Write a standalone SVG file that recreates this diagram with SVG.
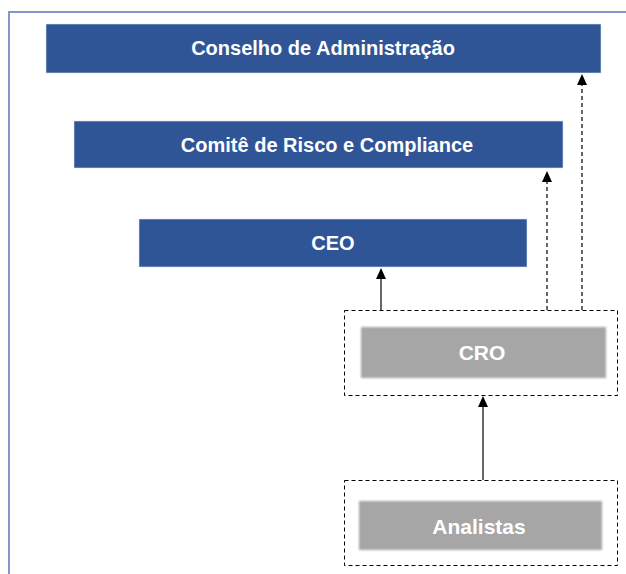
<svg xmlns="http://www.w3.org/2000/svg" width="626" height="574" viewBox="0 0 626 574">
  <style>
    .blue { fill: #2F5597; stroke: #dbe3f2; stroke-width: 0.6; }
    .gray { fill: #a6a6a6; }
    .group { fill: none; stroke: #000; stroke-width: 1; stroke-dasharray: 4 3; }
    .lbl { font-family: "Liberation Sans", Arial, sans-serif; font-weight: bold; font-size: 20px; fill: #fff; text-anchor: middle; }
    .glbl { font-size: 21px; }
    .solid { fill: none; stroke: #000; stroke-width: 1.2; }
    .dash { fill: none; stroke: #000; stroke-width: 1.2; stroke-dasharray: 4 3; }
    .head { fill: #000; }
  </style>
  <defs>
    <filter id="soft" x="-5%" y="-20%" width="110%" height="140%">
      <feGaussianBlur stdDeviation="1.3"/>
    </filter>
  </defs>
  <rect x="0" y="0" width="626" height="574" fill="#fff"/>
  <rect x="9" y="12" width="700" height="700" fill="none" stroke="#8497c8" stroke-width="2"/>

  <g id="conselho">
    <rect class="blue" x="46" y="24" width="555" height="49"/>
    <text class="lbl" x="323" y="55">Conselho de Administração</text>
  </g>
  <g id="comite">
    <rect class="blue" x="74" y="121" width="489" height="47"/>
    <text class="lbl" x="327" y="152">Comitê de Risco e Compliance</text>
  </g>
  <g id="ceo">
    <rect class="blue" x="139" y="219" width="388" height="48"/>
    <text class="lbl" x="333" y="250">CEO</text>
  </g>
  <g id="cro">
    <rect class="group" x="344.5" y="310.5" width="273" height="85"/>
    <rect class="gray" x="361" y="327" width="245" height="51" filter="url(#soft)"/>
    <text class="lbl glbl" x="482" y="360">CRO</text>
  </g>
  <g id="analistas">
    <rect class="group" x="344.5" y="480.5" width="273" height="85"/>
    <rect class="gray" x="359" y="501" width="243" height="49" filter="url(#soft)"/>
    <text class="lbl glbl" x="479" y="534">Analistas</text>
  </g>

  <g id="connectors">
    <line class="solid" x1="381" y1="310" x2="381" y2="279"/>
    <path class="head" d="M381 268 L386 279 L376 279 Z"/>
    <line class="dash" x1="547" y1="310" x2="547" y2="182"/>
    <path class="head" d="M547 171 L552 182 L542 182 Z"/>
    <line class="dash" x1="582" y1="310" x2="582" y2="85"/>
    <path class="head" d="M582 74 L587 85 L577 85 Z"/>
    <line class="solid" x1="483" y1="480" x2="483" y2="407"/>
    <path class="head" d="M483 396 L488 407 L478 407 Z"/>
  </g>
</svg>
